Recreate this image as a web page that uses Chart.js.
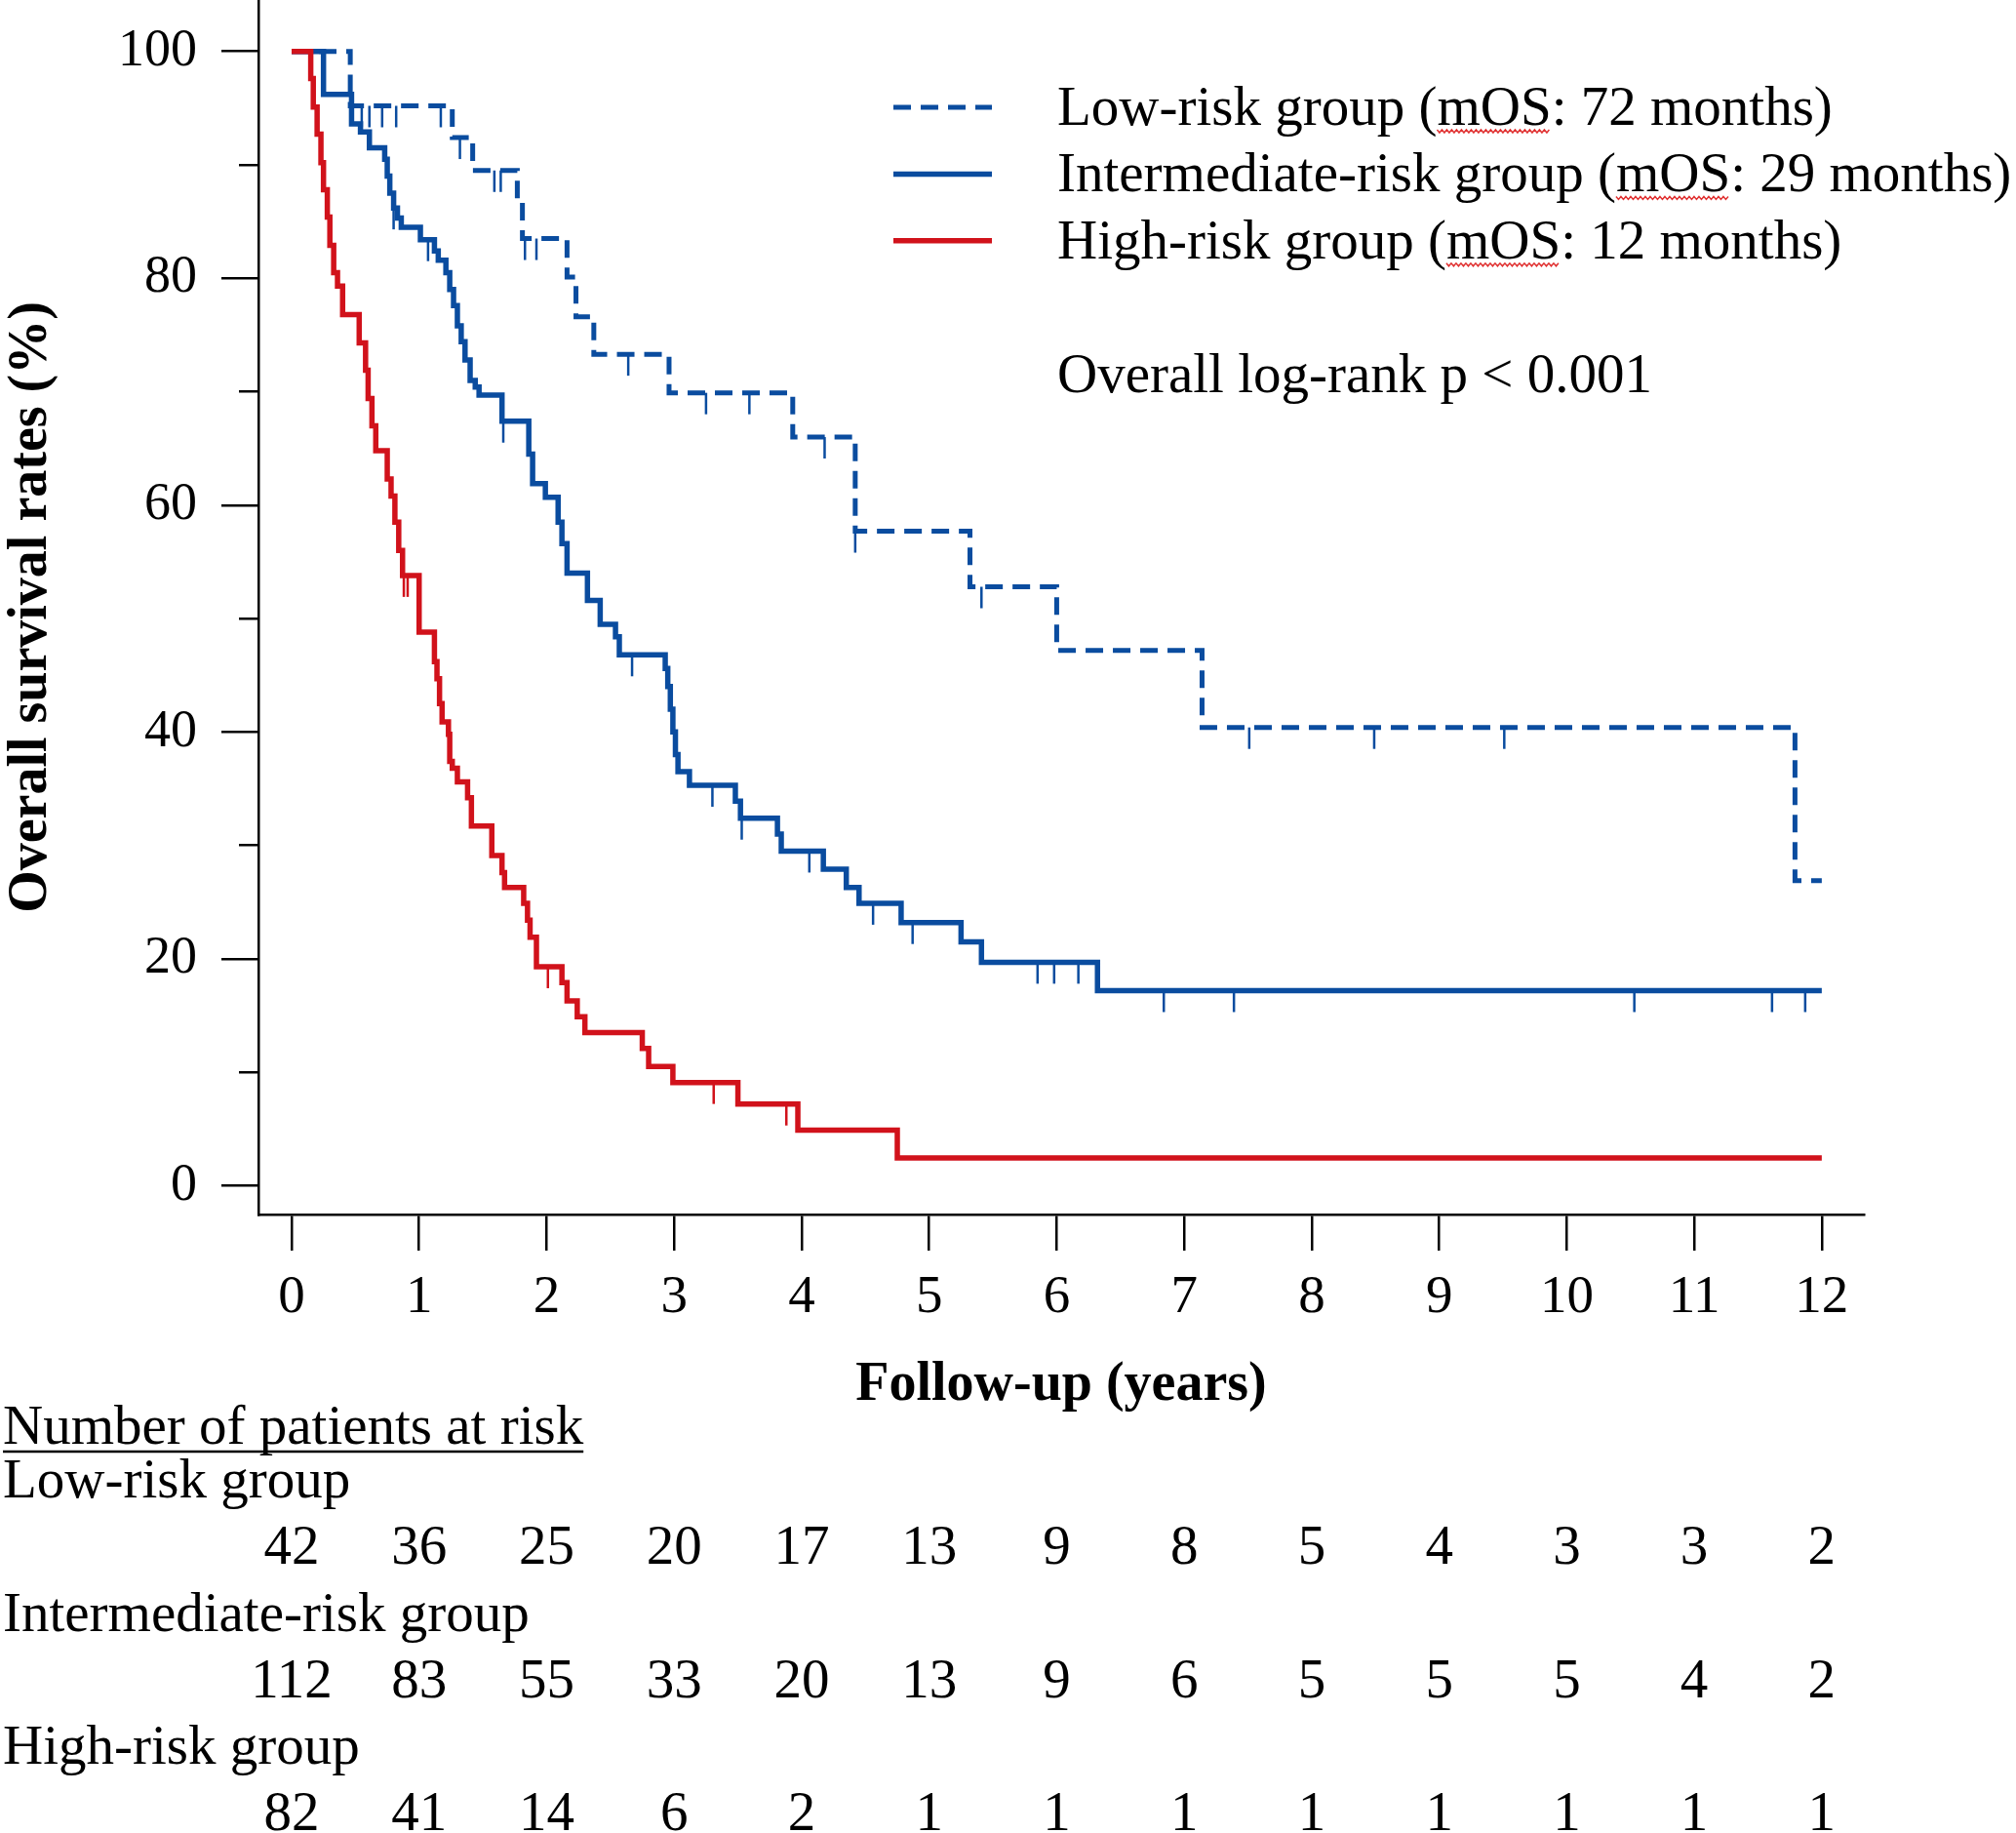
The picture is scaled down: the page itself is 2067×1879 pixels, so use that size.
<!DOCTYPE html>
<html>
<head>
<meta charset="utf-8">
<script src="https://cdn.jsdelivr.net/npm/chart.js@4.4.1/dist/chart.umd.min.js"></script>
<style>
  html, body { margin: 0; padding: 0; background: #fff; }
  #wrap { width: 2067px; height: 1879px; }
</style>
</head>
<body>
<div id="wrap"><canvas id="km" width="2067" height="1879"></canvas></div>
<script>
// x axis: follow-up in years
const years = [0, 1, 2, 3, 4, 5, 6, 7, 8, 9, 10, 11, 12];
const yMajor = [0, 20, 40, 60, 80, 100];
const yMinor = [10, 30, 50, 70, 90];

// Kaplan-Meier steps (time in years, survival in %)
const lowTime = [0, 0.46, 1.26, 1.42, 1.77, 1.81, 2.16, 2.23, 2.37, 2.96, 3.93, 4.42, 5.32, 6.0, 7.14, 11.79, 12.0];
const lowSurv = [100, 95.2, 92.4, 89.5, 86.9, 83.5, 80.1, 76.6, 73.3, 69.9, 66.0, 57.7, 52.8, 47.2, 40.4, 26.9, 26.9];

const intTime = [0, 0.25, 0.47, 0.54, 0.61, 0.73, 0.75, 0.77, 0.80, 0.83, 0.86, 1.01, 1.12, 1.15, 1.21, 1.24, 1.27, 1.30, 1.33, 1.36,
  1.40, 1.44, 1.47, 1.65, 1.86, 1.89, 1.99, 2.09, 2.12, 2.16, 2.32, 2.42, 2.54, 2.57, 2.93, 2.95, 2.97, 2.99, 3.01, 3.03,
  3.12, 3.48, 3.52, 3.81, 3.84, 4.17, 4.35, 4.45, 4.78, 5.25, 5.41, 6.32, 12.0];
const intSurv = [100, 96.2, 93.6, 92.9, 91.5, 90.5, 89.0, 87.5, 86.2, 85.3, 84.5, 83.4, 82.4, 81.6, 80.5, 79.0, 77.6, 75.8, 74.4, 72.8,
  71.0, 70.4, 69.7, 67.4, 64.5, 61.9, 60.7, 58.5, 56.6, 54.0, 51.6, 49.5, 48.4, 46.8, 45.6, 44.0, 42.0, 40.0, 38.0, 36.5,
  35.3, 33.9, 32.4, 31.0, 29.5, 27.9, 26.3, 24.9, 23.2, 21.5, 19.7, 17.2, 17.2];

const highTime = [0, 0.15, 0.17, 0.20, 0.23, 0.25, 0.28, 0.30, 0.33, 0.36, 0.40, 0.53, 0.58, 0.60, 0.63, 0.66, 0.75, 0.78, 0.81, 0.84,
  0.87, 1.00, 1.12, 1.14, 1.16, 1.18, 1.23, 1.24, 1.26, 1.30, 1.38, 1.41, 1.57, 1.65, 1.67, 1.82, 1.85, 1.87, 1.92, 2.12,
  2.16, 2.24, 2.30, 2.75, 2.80, 2.99, 3.50, 3.97, 4.75, 12.0];
const highSurv = [100, 97.6, 95.1, 92.7, 90.2, 87.8, 85.4, 82.9, 80.5, 79.3, 76.8, 74.3, 71.9, 69.4, 67.0, 64.8, 62.3, 60.8, 58.5, 56.0,
  53.8, 48.8, 46.2, 44.7, 42.5, 40.9, 39.8, 37.4, 36.8, 35.6, 34.2, 31.7, 29.1, 27.6, 26.3, 24.9, 23.4, 21.9, 19.3, 17.9,
  16.3, 14.9, 13.5, 12.1, 10.5, 9.1, 7.2, 4.9, 2.45, 2.45];

// censored observations (years)
const lowCens = [0.55, 0.61, 0.71, 0.82, 1.17, 1.32, 1.59, 1.64, 1.83, 1.92, 2.64, 3.25, 3.59, 4.18, 4.42, 5.41, 7.51, 8.49, 9.51];
const intCens = [0.80, 1.07, 1.66, 2.67, 3.30, 3.53, 4.06, 4.56, 4.87, 5.85, 5.98, 6.17, 6.84, 7.39, 10.53, 11.61, 11.87];
const highCens = [0.88, 0.91, 2.01, 3.31, 3.88];

// number at risk at each year
const riskLow = [42, 36, 25, 20, 17, 13, 9, 8, 5, 4, 3, 3, 2];
const riskInt = [112, 83, 55, 33, 20, 13, 9, 6, 5, 5, 5, 4, 2];
const riskHigh = [82, 41, 14, 6, 2, 1, 1, 1, 1, 1, 1, 1, 1];

const groupNames = ['Low-risk group', 'Intermediate-risk group', 'High-risk group'];
const mosMonths = [72, 29, 12];

const BLUE = '#0a4c9f';
const RED = '#d1121b';
const FONT = '"Liberation Serif", "Times New Roman", serif';

const toPoints = (t, s) => t.map((v, i) => ({ x: v, y: s[i] }));

function survAt(t, s, when) {
  let v = s[0];
  for (let i = 0; i < t.length; i++) {
    if (t[i] <= when) v = s[i];
  }
  return v;
}

const groups = [
  { t: lowTime, s: lowSurv, cens: lowCens, color: BLUE, dash: [18, 10] },
  { t: intTime, s: intSurv, cens: intCens, color: BLUE, dash: [] },
  { t: highTime, s: highSurv, cens: highCens, color: RED, dash: [] }
];

function noPad(s) {
  s.paddingTop = 0;
  s.paddingBottom = 0;
  s.paddingLeft = 0;
  s.paddingRight = 0;
}

const kmExtras = {
  id: 'kmExtras',
  afterDatasetsDraw(chart) {
    const { ctx, scales } = chart;
    const x = scales.x, y = scales.y;
    // censor ticks hanging below the curve
    ctx.save();
    ctx.lineWidth = 2.5;
    groups.forEach(g => {
      ctx.strokeStyle = g.color;
      g.cens.forEach(c => {
        const px = x.getPixelForValue(c);
        const py = y.getPixelForValue(survAt(g.t, g.s, c));
        ctx.beginPath();
        ctx.moveTo(px, py);
        ctx.lineTo(px, py + 22);
        ctx.stroke();
      });
    });
    ctx.restore();
  },
  afterDraw(chart) {
    const { ctx, scales } = chart;
    const x = scales.x;
    ctx.save();
    ctx.fillStyle = '#000';
    ctx.textBaseline = 'alphabetic';
    ctx.font = '57px ' + FONT;

    // legend
    const legTop = 128, legStep = 68.4;
    groups.forEach((g, i) => {
      const ly = legTop + i * legStep;
      ctx.save();
      ctx.strokeStyle = g.color;
      ctx.lineWidth = g.dash.length ? 5 : 5.5;
      ctx.setLineDash(g.dash);
      ctx.beginPath();
      ctx.moveTo(916, ly - 18);
      ctx.lineTo(1017, ly - 18);
      ctx.stroke();
      ctx.restore();

      const pre = groupNames[i] + ' (';
      const mos = 'mOS';
      const post = ': ' + mosMonths[i] + ' months)';
      let tx = 1084;
      ctx.textAlign = 'left';
      ctx.fillText(pre, tx, ly);
      tx += ctx.measureText(pre).width;
      const mw = ctx.measureText(mos).width;
      ctx.fillText(mos, tx, ly);
      // red wavy spell-check underline
      ctx.save();
      ctx.strokeStyle = '#e03030';
      ctx.lineWidth = 1.5;
      ctx.beginPath();
      for (let k = 0; k <= mw; k += 2.5) {
        const wy = ly + 6 + ((Math.round(k / 2.5) % 2) ? 2 : -1);
        if (k === 0) ctx.moveTo(tx + k, wy); else ctx.lineTo(tx + k, wy);
      }
      ctx.stroke();
      ctx.restore();
      ctx.fillText(post, tx + mw, ly);
    });
    ctx.fillText('Overall log-rank p < 0.001', 1084, legTop + 4 * legStep);

    // number at risk table
    ctx.textAlign = 'left';
    const head = 'Number of patients at risk';
    ctx.fillText(head, 3, 1480);
    ctx.lineWidth = 2.5;
    ctx.strokeStyle = '#000';
    ctx.beginPath();
    ctx.moveTo(3, 1488);
    ctx.lineTo(3 + ctx.measureText(head).width, 1488);
    ctx.stroke();

    const rows = [riskLow, riskInt, riskHigh];
    rows.forEach((row, r) => {
      const base = 1535 + r * 136.5;
      ctx.textAlign = 'left';
      ctx.fillText(groupNames[r], 3, base);
      ctx.textAlign = 'center';
      row.forEach((n, i) => {
        ctx.fillText(String(n), x.getPixelForValue(years[i]), base + 68);
      });
    });
    ctx.restore();
  }
};

new Chart(document.getElementById('km'), {
  type: 'line',
  data: {
    datasets: [
      {
        label: groupNames[2],
        data: toPoints(highTime, highSurv),
        borderColor: RED,
        borderWidth: 5.5,
        stepped: true,
        pointRadius: 0,
        order: 1
      },
      {
        label: groupNames[1],
        data: toPoints(intTime, intSurv),
        borderColor: BLUE,
        borderWidth: 5.5,
        stepped: true,
        pointRadius: 0,
        order: 2
      },
      {
        label: groupNames[0],
        data: toPoints(lowTime, lowSurv),
        borderColor: BLUE,
        borderWidth: 5,
        borderDash: [18, 10],
        stepped: true,
        pointRadius: 0,
        order: 3
      }
    ]
  },
  options: {
    responsive: false,
    animation: false,
    devicePixelRatio: 1,
    layout: { autoPadding: false, padding: { left: 0, top: 0, right: 156, bottom: 0 } },
    plugins: {
      legend: { display: false },
      tooltip: { enabled: false }
    },
    scales: {
      x: {
        type: 'linear',
        min: -0.26,
        max: 12.33,
        afterBuildTicks: s => { s.ticks = years.map(v => ({ value: v })); },
        afterFit: s => { s.height = 1879 - 1245; noPad(s); },
        grid: { drawOnChartArea: false, drawTicks: true, tickLength: 37, color: '#000', lineWidth: 2.5 },
        border: { display: true, color: '#000', width: 2.5 },
        ticks: { color: '#000', font: { family: FONT, size: 55 }, padding: 16, maxRotation: 0, autoSkip: false },
        title: {
          display: true,
          text: 'Follow-up (years)',
          color: '#000',
          font: { family: FONT, size: 56, weight: 'bold', lineHeight: 1 },
          padding: { top: 0, bottom: 430 }
        }
      },
      y: {
        type: 'linear',
        position: 'left',
        weight: 1,
        min: -2.54,
        max: 104.53,
        afterBuildTicks: s => { s.ticks = yMajor.map(v => ({ value: v })); },
        afterFit: s => { s.width = 265; noPad(s); },
        grid: { drawOnChartArea: false, drawTicks: true, tickLength: 38, color: '#000', lineWidth: 2.5 },
        border: { display: true, color: '#000', width: 2.5 },
        ticks: { color: '#000', font: { family: FONT, size: 54 }, padding: 25 },
        title: {
          display: true,
          text: 'Overall survival rates (%)',
          color: '#000',
          font: { family: FONT, size: 56, weight: 'bold', lineHeight: 1 },
          padding: { top: 5, bottom: 0 }
        }
      },
      yMinor: {
        type: 'linear',
        position: 'left',
        display: true,
        weight: 0,
        min: -2.54,
        max: 104.53,
        afterBuildTicks: s => { s.ticks = yMinor.map(v => ({ value: v })); },
        afterFit: s => { s.width = 0; noPad(s); },
        grid: { drawOnChartArea: false, drawTicks: true, tickLength: 20, color: '#000', lineWidth: 2.5 },
        border: { display: false },
        ticks: { display: false }
      }
    }
  },
  plugins: [kmExtras]
});
</script>
</body>
</html>
